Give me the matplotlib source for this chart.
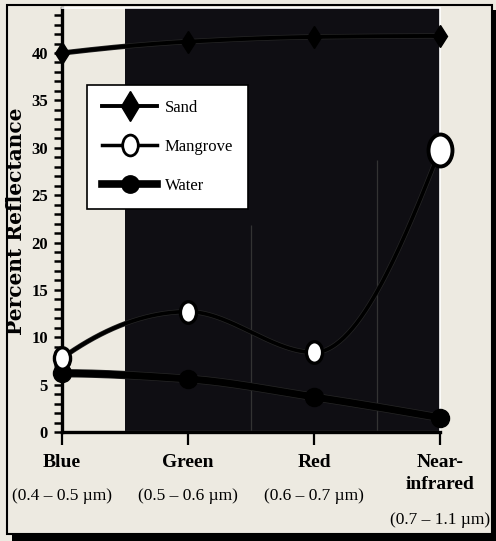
import numpy as np
import matplotlib
matplotlib.use("Agg")
import matplotlib.pyplot as plt
import matplotlib.transforms as mtransforms
import matplotlib.patheffects as pe
from matplotlib.path import Path
from matplotlib.patches import Rectangle
from matplotlib.lines import Line2D

# data
bands = ["Blue", "Green", "Red", "Near-\ninfrared"]
ranges = ["(0.4 – 0.5 µm)", "(0.5 – 0.6 µm)", "(0.6 – 0.7 µm)", "(0.7 – 1.1 µm)"]
sand = [40.0, 41.2, 41.7, 41.8]
mangrove = [7.8, 12.7, 8.4, 29.8]
water = [6.2, 5.6, 3.7, 1.5]

BEIGE = "#EDEAE1"
DARK = "#0F0E13"
W, H = 496, 541


def pchip(y, n=60):
    """Monotone cubic through equally spaced points (smoothed line look)."""
    y = np.asarray(y, float)
    d = np.diff(y)
    m = np.zeros_like(y)
    for i in range(1, len(y) - 1):
        if d[i - 1] * d[i] > 0:
            m[i] = 2.0 / (1.0 / d[i - 1] + 1.0 / d[i])
    for i, (a, b) in ((0, (d[0], d[1])), (len(y) - 1, (d[-1], d[-2]))):
        e = (3 * a - b) / 2.0
        if np.sign(e) != np.sign(a):
            e = 0.0
        elif np.sign(a) != np.sign(b) and abs(e) > abs(3 * a):
            e = 3 * a
        m[i] = e
    xs, ys = [], []
    for i in range(len(y) - 1):
        t = np.linspace(0, 1, n)
        h00 = 2 * t**3 - 3 * t**2 + 1
        h10 = t**3 - 2 * t**2 + t
        h01 = -2 * t**3 + 3 * t**2
        h11 = t**3 - t**2
        xs.append(i + t)
        ys.append(h00 * y[i] + h10 * m[i] + h01 * y[i + 1] + h11 * m[i + 1])
    return np.concatenate(xs), np.concatenate(ys)


ellipse = Path.unit_circle().transformed(mtransforms.Affine2D().scale(0.75, 1.0))

plt.rcParams["font.family"] = ["Liberation Serif", "DejaVu Serif"]

fig = plt.figure(figsize=(W / 100, H / 100), dpi=100, facecolor=BEIGE)

# frame with drop shadow
fig.patches.append(Rectangle((12 / W, 0), 1, (H - 10) / H, transform=fig.transFigure,
                             facecolor="black", edgecolor="none", zorder=-5))
fig.patches.append(Rectangle((7 / W, (H - 534) / H), (492 - 7) / W, (534 - 5) / H,
                             transform=fig.transFigure, facecolor=BEIGE,
                             edgecolor="black", linewidth=1.5, zorder=-4))

ax = fig.add_axes([62 / W, (H - 432) / H, 378 / W, 424 / H])
ax.set_facecolor(BEIGE)
x = np.arange(len(bands))
ax.set_xlim(0, len(bands) - 1)
ax.set_ylim(0, 44.75)

ax.axvspan(0.5, len(bands) - 1, color=DARK, zorder=0, lw=0)
ax.axhline(0.12, xmin=0.5 / 3, color="white", lw=0.8, zorder=1)
ax.vlines([1.5, 2.5], 0, [21.8, 28.7], color="#333333", lw=0.9, zorder=1)

outline = lambda w: [pe.Stroke(linewidth=w + 1.0, foreground="#262626"), pe.Normal()]

xs, ys = pchip(sand)
ax.plot(xs, ys, color="black", lw=2.8, zorder=3, path_effects=outline(2.8))
ax.plot(x, sand, ls="none", marker="d", ms=11.5, color="black", zorder=4, clip_on=False)

xs, ys = pchip(mangrove)
ax.plot(xs, ys, color="black", lw=2.6, zorder=3, path_effects=outline(2.6))
ax.plot(x[:-1], mangrove[:-1], ls="none", marker=ellipse, ms=15.5, mfc="white",
        mec="black", mew=2.4, zorder=5, clip_on=False)
ax.plot(x[-1:], mangrove[-1:], ls="none", marker=ellipse, ms=23, mfc="white",
        mec="black", mew=2.8, zorder=5, clip_on=False)

xs, ys = pchip(water)
ax.plot(xs, ys, color="black", lw=5, zorder=3, path_effects=outline(5))
ax.plot(x, water, ls="none", marker="o", ms=13, color="black", zorder=4, clip_on=False)

# axes styling
for s in ("left", "bottom"):
    ax.spines[s].set_color("black")
    ax.spines[s].set_linewidth(2.4)
for s in ("top", "right"):
    ax.spines[s].set_color("white")
    ax.spines[s].set_linewidth(1.2)
ax.set_yticks(np.arange(0, 41, 5))
ax.set_yticks(np.arange(0, 45, 1), minor=True)
ax.tick_params(axis="y", which="both", direction="out", length=6, width=1.8, pad=4)
ax.tick_params(axis="y", labelsize=12)
for lab in ax.get_yticklabels():
    lab.set_fontweight("bold")
ax.set_xticks(x)
ax.set_xticklabels([])
ax.tick_params(axis="x", direction="out", length=9, width=1.6)

tr = mtransforms.blended_transform_factory(ax.transData, fig.transFigure)
for i, (name, rng) in enumerate(zip(bands, ranges)):
    lines = name.count("\n")
    ax.text(i, 1 - 454 / H, name, transform=tr, ha="center", va="top",
            fontsize=14, fontweight="bold", linespacing=1.35)
    ax.text(i, 1 - (496 + 24 * lines) / H, rng, transform=tr, ha="center",
            va="center", fontsize=12.5)

fig.text(16 / W, 1 - 221 / H, "Percent Reflectance", rotation=90, ha="center",
         va="center", fontsize=14.5, fontweight="bold", family="DejaVu Serif")

handles = [
    Line2D([], [], color="black", lw=2.8, marker="d", ms=15),
    Line2D([], [], color="black", lw=2.5, marker=ellipse, ms=15, mfc="white", mew=2),
    Line2D([], [], color="black", lw=5.5, marker="o", ms=12.5),
]
leg = ax.legend(handles, ["Sand", "Mangrove", "Water"], loc="upper left",
                bbox_to_anchor=(87 / W, 1 - 85 / H), bbox_transform=fig.transFigure,
                borderaxespad=0, fontsize=12, handlelength=3.3, handletextpad=0.45,
                labelspacing=1.38, borderpad=0.9, fancybox=False, framealpha=1)
leg.get_frame().set_edgecolor("black")
leg.get_frame().set_linewidth(1.2)
leg.set_zorder(6)

fig.savefig("out.png", dpi=100, facecolor=BEIGE)
